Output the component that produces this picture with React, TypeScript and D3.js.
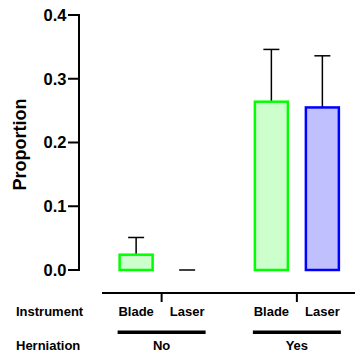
import React from 'react';
import * as d3 from 'd3';

const herniation = ['No', 'Yes'];
const instruments = ['Blade', 'Laser'];
const means = [[0.024, 0.0], [0.264, 0.255]];
const upper = [[0.051, 0.0], [0.346, 0.336]];
const yTicks = [0.0, 0.1, 0.2, 0.3, 0.4];

const fills = ['#ccffcc', '#c0c0ff'];
const strokes = ['#00ff00', '#0000ff'];

const font = 'Liberation Sans, Arial, sans-serif';

const App = () => {
  const y = d3.scaleLinear().domain([0, 0.4]).range([270, 15]);
  const xGroup = d3.scaleBand().domain(herniation).range([94, 364.5]);
  const xInner = d3.scalePoint().domain(instruments).range([-25.5, 25.5]);
  const barW = 33;
  const capW = 16;
  const axisX = 79;

  const gc = (g: string) => (xGroup(g) as number) + xGroup.bandwidth() / 2;

  return (
    <svg width={355} height={356} style={{ position: 'absolute', left: 0, top: 0 }} fontFamily={font} fontWeight="bold">
      {/* y axis */}
      <line x1={axisX} x2={axisX} y1={y(0.4) - 1} y2={y(0) + 1} stroke="#000" strokeWidth={2} />
      {yTicks.map(t => (
        <g key={t}>
          <line x1={axisX - 11} x2={axisX} y1={y(t)} y2={y(t)} stroke="#000" strokeWidth={2} />
          <text x={axisX - 12.5} y={y(t)} dy="0.36em" textAnchor="end" fontSize={16.5}>{t.toFixed(1)}</text>
        </g>
      ))}
      <text transform={`translate(26,${(y(0) + y(0.4)) / 2 + 2}) rotate(-90)`} textAnchor="middle" fontSize={18}>Proportion</text>

      {/* bars */}
      {herniation.map((h, gi) => instruments.map((ins, ii) => {
        const cx = gc(h) + (xInner(ins) as number);
        const top = y(means[gi][ii]);
        const errTop = y(upper[gi][ii]);
        return (
          <g key={h + ins}>
            {upper[gi][ii] > means[gi][ii] && (
              <line x1={cx} x2={cx} y1={errTop} y2={top} stroke="#000" strokeWidth={1.5} />
            )}
            <line x1={cx - capW / 2} x2={cx + capW / 2} y1={errTop} y2={errTop} stroke="#000" strokeWidth={1.5} />
            {means[gi][ii] > 0 && (
              <rect x={cx - barW / 2} y={top} width={barW} height={y(0) - top}
                fill={fills[ii]} stroke={strokes[ii]} strokeWidth={2.5} />
            )}
          </g>
        );
      }))}

      {/* x axis */}
      <line x1={102} x2={355} y1={293} y2={293} stroke="#000" strokeWidth={2} />
      {herniation.map(h => (
        <line key={h} x1={gc(h)} x2={gc(h)} y1={293} y2={302} stroke="#000" strokeWidth={2} />
      ))}
      <text x={16} y={316} fontSize={13}>Instrument</text>
      <text x={16} y={350} fontSize={13}>Herniation</text>
      {herniation.map(h => (
        <g key={h}>
          {instruments.map(ins => (
            <text key={ins} x={gc(h) + (xInner(ins) as number)} y={316} textAnchor="middle" fontSize={13}>{ins}</text>
          ))}
          <line x1={gc(h) - 44} x2={gc(h) + 44} y1={332.3} y2={332.3} stroke="#000" strokeWidth={3.5} />
          <text x={gc(h)} y={350} textAnchor="middle" fontSize={13}>{h}</text>
        </g>
      ))}
    </svg>
  );
};

export default App;
